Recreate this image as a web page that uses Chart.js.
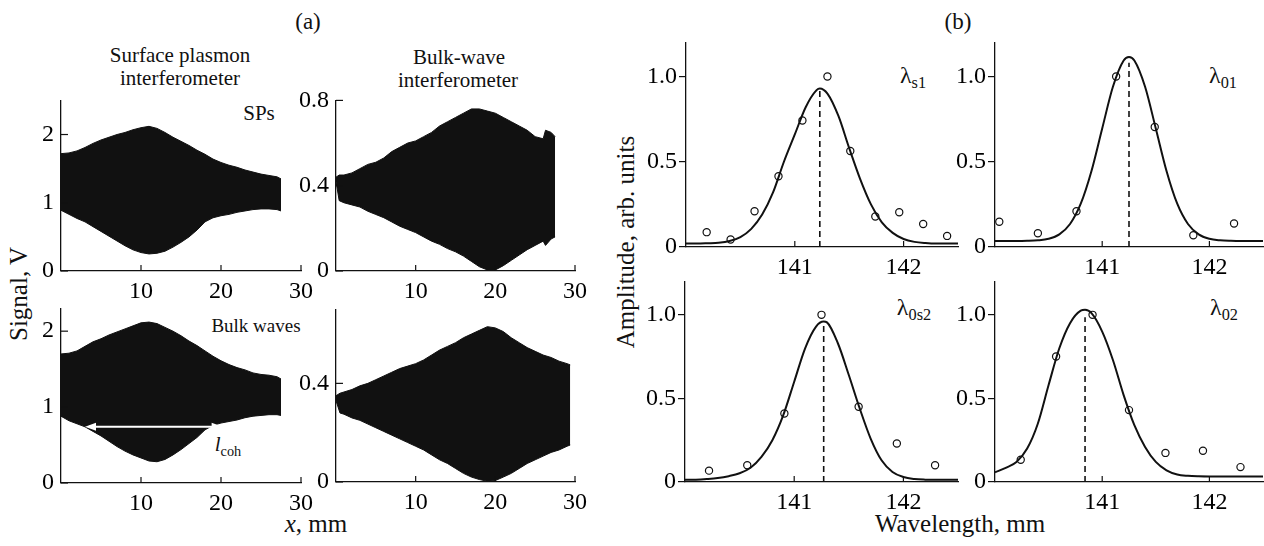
<!DOCTYPE html>
<html>
<head>
<meta charset="utf-8">
<script src="https://cdn.jsdelivr.net/npm/chart.js@4.4.0/dist/chart.umd.min.js"></script>
<style>
  body { margin: 0; background: #fff; }
  #fig { position: relative; width: 1264px; height: 546px; overflow: hidden;
         font-family: "Liberation Serif", "DejaVu Serif", serif; color: #111; }
  #fig canvas { position: absolute; }
  .lbl { position: absolute; white-space: nowrap; line-height: 1; transform: translate(-50%, -50%); }
  .vert { transform: translate(-50%, -50%) rotate(-90deg); }
  .lbl sub { font-size: 0.68em; vertical-align: -0.3em; }
</style>
</head>
<body>
<div id="fig">
  <div class="lbl" style="left:308px;top:21px;font-size:23px">(a)</div>
  <div class="lbl" style="left:180px;top:55px;font-size:21px">Surface plasmon</div>
  <div class="lbl" style="left:180px;top:78px;font-size:21px">interferometer</div>
  <div class="lbl" style="left:459px;top:57px;font-size:21px">Bulk-wave</div>
  <div class="lbl" style="left:458px;top:80px;font-size:21px">interferometer</div>
  <div class="lbl" style="left:259px;top:113px;font-size:21px">SPs</div>
  <div class="lbl" style="left:256px;top:325px;font-size:19px">Bulk waves</div>
  <div class="lbl" style="left:228px;top:446px;font-size:21px"><i>l</i><sub>coh</sub></div>
  <div class="lbl vert" style="left:18px;top:294px;font-size:25px">Signal, V</div>
  <div class="lbl" style="left:316px;top:523px;font-size:25px"><i>x</i>, mm</div>
  <div class="lbl" style="left:958px;top:21px;font-size:23px">(b)</div>
  <div class="lbl vert" style="left:625px;top:242px;font-size:25px">Amplitude, arb. units</div>
  <div class="lbl" style="left:960px;top:523px;font-size:25px">Wavelength, mm</div>
  <div class="lbl" style="left:913px;top:77px;font-size:24px">λ<sub>s1</sub></div>
  <div class="lbl" style="left:1223px;top:77px;font-size:24px">λ<sub>01</sub></div>
  <div class="lbl" style="left:914px;top:309px;font-size:24px">λ<sub>0s2</sub></div>
  <div class="lbl" style="left:1224px;top:309px;font-size:24px">λ<sub>02</sub></div>
</div>
<script>
// ---- (a) signal envelopes, V (upper / lower edge of the fast fringes) ----
const spsX = [0,1,2,3,4,5,6,7,8,9,10,11,12,13,14,15,16,17,18,19,20,21,22,23,24,25,26,27,27.5];
const spsUpper = [1.72,1.73,1.76,1.81,1.87,1.92,1.96,2.00,2.03,2.07,2.10,2.12,2.09,2.03,1.96,1.90,1.84,1.77,1.71,1.64,1.59,1.55,1.52,1.48,1.45,1.42,1.40,1.38,1.35];
const spsLower = [0.89,0.83,0.77,0.72,0.65,0.58,0.51,0.44,0.37,0.31,0.27,0.25,0.26,0.29,0.35,0.42,0.50,0.60,0.72,0.78,0.81,0.83,0.86,0.88,0.90,0.91,0.91,0.90,0.88];

const bwUpper = [1.70,1.71,1.74,1.80,1.86,1.90,1.95,1.99,2.03,2.07,2.11,2.12,2.10,2.05,2.00,1.94,1.87,1.81,1.74,1.67,1.61,1.56,1.52,1.49,1.45,1.43,1.42,1.40,1.37];
const bwLower = [0.88,0.82,0.78,0.74,0.68,0.62,0.55,0.48,0.42,0.37,0.33,0.29,0.28,0.31,0.37,0.44,0.52,0.60,0.70,0.76,0.79,0.81,0.83,0.86,0.88,0.89,0.90,0.90,0.89];

const bulkX = [0,0.4,1,2,3,4,5,6,7,8,9,10,11,12,13,14,15,16,17,18,19,20,21,22,23,24,25,26,26.3,27,27.5];
const bulkUpper = [0.44,0.45,0.45,0.46,0.48,0.50,0.51,0.53,0.56,0.58,0.60,0.61,0.63,0.65,0.68,0.70,0.72,0.74,0.76,0.76,0.75,0.74,0.72,0.70,0.68,0.66,0.63,0.62,0.66,0.65,0.63];
const bulkLower = [0.42,0.33,0.32,0.31,0.30,0.28,0.265,0.25,0.23,0.21,0.195,0.18,0.16,0.14,0.125,0.105,0.09,0.07,0.045,0.02,0.005,0.005,0.025,0.05,0.075,0.10,0.12,0.14,0.12,0.15,0.16];

const bulk2X = [0,0.5,1,2,3,4,5,6,7,8,9,10,11,12,13,14,15,16,17,18,19,20,21,22,23,24,25,26,27,28,29,29.4];
const bulk2Upper = [0.35,0.36,0.365,0.375,0.39,0.40,0.415,0.43,0.445,0.46,0.47,0.48,0.495,0.515,0.535,0.55,0.565,0.585,0.60,0.615,0.63,0.625,0.61,0.585,0.565,0.545,0.53,0.515,0.505,0.49,0.48,0.475];
const bulk2Lower = [0.33,0.28,0.275,0.26,0.25,0.235,0.22,0.205,0.19,0.175,0.16,0.145,0.13,0.11,0.09,0.075,0.055,0.035,0.02,0.01,0.003,0.006,0.02,0.035,0.055,0.075,0.09,0.105,0.12,0.13,0.145,0.15];

const lcohX = [3.0, 20.2];   // coherence length arrow, mm
const lcohY = 0.74;

// ---- (b) spectral lines: measured points + fitted curve ----
const s1PtsX = [140.19,140.41,140.63,140.85,141.07,141.30,141.51,141.74,141.96,142.18,142.40];
const s1PtsY = [0.087,0.044,0.21,0.415,0.742,1.0,0.563,0.179,0.204,0.135,0.065];
const s1FitX = [140.0,140.1,140.2,140.3,140.4,140.5,140.6,140.7,140.8,140.9,141.0,141.1,141.2,141.23,141.3,141.4,141.5,141.6,141.7,141.8,141.9,142.0,142.1,142.2,142.3,142.4,142.5];
const s1FitY = [0.02,0.02,0.022,0.025,0.035,0.058,0.106,0.19,0.32,0.50,0.66,0.82,0.92,0.93,0.90,0.77,0.58,0.40,0.25,0.145,0.083,0.047,0.03,0.023,0.02,0.02,0.02];
const s1Peak = [141.23, 0.93];

const o1PtsX = [140.04,140.40,140.76,141.13,141.49,141.85,142.23];
const o1PtsY = [0.148,0.081,0.21,1.0,0.704,0.069,0.138];
const o1FitX = [140.0,140.1,140.2,140.3,140.4,140.5,140.6,140.7,140.8,140.9,141.0,141.1,141.2,141.25,141.3,141.4,141.5,141.6,141.7,141.8,141.9,142.0,142.1,142.2,142.3,142.4,142.5];
const o1FitY = [0.035,0.035,0.035,0.036,0.039,0.048,0.074,0.135,0.254,0.446,0.695,0.94,1.094,1.115,1.094,0.94,0.695,0.446,0.254,0.135,0.074,0.048,0.039,0.036,0.035,0.035,0.035];
const o1Peak = [141.25, 1.08];

const s2PtsX = [140.22,140.57,140.91,141.25,141.59,141.94,142.29];
const s2PtsY = [0.068,0.10,0.41,1.0,0.45,0.23,0.10];
const s2FitX = [140.0,140.1,140.2,140.3,140.4,140.5,140.6,140.7,140.8,140.9,141.0,141.1,141.2,141.27,141.3,141.4,141.5,141.6,141.7,141.8,141.9,142.0,142.1,142.2,142.3,142.4,142.5];
const s2FitY = [0.013,0.014,0.018,0.024,0.035,0.052,0.085,0.15,0.25,0.40,0.60,0.80,0.93,0.96,0.955,0.83,0.64,0.44,0.26,0.13,0.06,0.03,0.018,0.014,0.013,0.013,0.013];
const s2Peak = [141.27, 0.94];

const o2PtsX = [140.24,140.57,140.91,141.25,141.59,141.94,142.29];
const o2PtsY = [0.133,0.751,1.0,0.43,0.174,0.187,0.089];
const o2FitX = [140.0,140.1,140.2,140.3,140.4,140.5,140.6,140.7,140.8,140.84,140.9,141.0,141.1,141.2,141.3,141.4,141.5,141.6,141.7,141.8,141.9,142.0,142.1,142.2,142.3,142.4,142.5];
const o2FitY = [0.058,0.085,0.12,0.2,0.35,0.58,0.80,0.95,1.025,1.03,1.01,0.90,0.73,0.52,0.34,0.21,0.12,0.07,0.045,0.037,0.034,0.033,0.033,0.033,0.033,0.033,0.033];
const o2Peak = [140.84, 0.985];

// tick labels
const aXTicks = [10, 20, 30];
const spYTicks = [0, 1, 2];
const bulkYTicks = [0, 0.4, 0.8];
const bulk2YTicks = [0, 0.4];
const bXTicks = [141, 142];
const bYTicks = [0, 0.5, 1.0];

const INK = "#111";
const SERIF = "'Liberation Serif', 'DejaVu Serif', serif";
Chart.defaults.font.family = SERIF;
Chart.defaults.font.size = 24;
Chart.defaults.color = "#000";
const FONT = { family: SERIF, size: 24 };
const Y_W = 60, X_H = 40, PAD_T = 12, PAD_R = 25;

const pts = (xs, ys) => xs.map((x, i) => ({ x: x, y: ys[i] }));

// inward tick marks (Chart.js only draws them outward)
const innerTicks = {
  id: "innerTicks",
  afterDraw(chart, args, opts) {
    const ctx = chart.ctx, area = chart.chartArea;
    ctx.save();
    ctx.strokeStyle = INK;
    ctx.lineWidth = 1.2;
    if (opts.x) chart.scales.x.ticks.forEach(t => {
      const px = chart.scales.x.getPixelForValue(t.value);
      ctx.beginPath(); ctx.moveTo(px, area.bottom); ctx.lineTo(px, area.bottom - opts.x); ctx.stroke();
    });
    if (opts.y) chart.scales.y.ticks.forEach(t => {
      const py = chart.scales.y.getPixelForValue(t.value);
      ctx.beginPath(); ctx.moveTo(area.left, py); ctx.lineTo(area.left + opts.y, py); ctx.stroke();
    });
    ctx.restore();
  }
};

// white double arrow marking l_coh
const cohArrow = {
  id: "cohArrow",
  afterDatasetsDraw(chart, args, opts) {
    if (!opts.range) return;
    const sx = chart.scales.x, sy = chart.scales.y, ctx = chart.ctx;
    const x0 = sx.getPixelForValue(opts.range[0]), x1 = sx.getPixelForValue(opts.range[1]);
    const y = sy.getPixelForValue(opts.level);
    ctx.save();
    ctx.strokeStyle = "#fff"; ctx.fillStyle = "#fff"; ctx.lineWidth = 2;
    ctx.beginPath(); ctx.moveTo(x0 + 4, y); ctx.lineTo(x1 - 4, y); ctx.stroke();
    ctx.beginPath(); ctx.moveTo(x0, y); ctx.lineTo(x0 + 11, y - 4); ctx.lineTo(x0 + 11, y + 4); ctx.closePath(); ctx.fill();
    ctx.beginPath(); ctx.moveTo(x1, y); ctx.lineTo(x1 - 11, y - 4); ctx.lineTo(x1 - 11, y + 4); ctx.closePath(); ctx.fill();
    ctx.restore();
  }
};

function makePanel(rect, xr, yr, xTicks, yTicks, datasets, extra) {
  const cv = document.createElement("canvas");
  const w = rect.r - rect.l + Y_W + PAD_R, h = rect.b - rect.t + PAD_T + X_H;
  cv.width = w; cv.height = h;
  cv.style.left = (rect.l - Y_W) + "px";
  cv.style.top = (rect.t - PAD_T) + "px";
  document.getElementById("fig").appendChild(cv);
  const yOut = extra.yOut;
  new Chart(cv.getContext("2d"), {
    type: "line",
    data: { datasets: datasets },
    plugins: [innerTicks, cohArrow],
    options: {
      responsive: false, animation: false, devicePixelRatio: 1,
      layout: { padding: { left: 0, top: PAD_T, right: PAD_R, bottom: 0 }, autoPadding: false },
      plugins: {
        legend: { display: false }, tooltip: { enabled: false },
        innerTicks: { x: 6, y: yOut ? 0 : 7 },
        cohArrow: extra.coh || {}
      },
      scales: {
        x: {
          type: "linear", min: xr[0], max: xr[1],
          afterFit: s => { s.height = X_H; },
          afterBuildTicks: s => { s.ticks = xTicks.map(v => ({ value: v })); },
          grid: { display: true, drawOnChartArea: false, drawTicks: false, color: INK },
          border: { display: true, color: INK, width: 1.3 },
          ticks: { color: "#000", font: FONT, padding: 6, maxRotation: 0, autoSkip: false,
                   callback: v => String(v) }
        },
        y: {
          type: "linear", min: yr[0], max: yr[1],
          afterFit: s => { s.width = Y_W; },
          afterBuildTicks: s => { s.ticks = yTicks.map(v => ({ value: v })); },
          grid: { display: true, drawOnChartArea: false, drawTicks: !!yOut, tickLength: 7, color: INK, tickColor: INK, lineWidth: 1.2 },
          border: { display: true, color: INK, width: 1.3 },
          ticks: { color: "#000", font: FONT, padding: yOut ? 2 : 7, autoSkip: false,
                   callback: v => v === 0 ? "0" : (extra.yFmt ? v.toFixed(extra.yFmt) : String(v)) }
        }
      }
    }
  });
}

function envelope(xs, up, lo) {
  return [
    { data: pts(xs, up), borderColor: INK, borderWidth: 1, backgroundColor: INK,
      fill: "+1", pointRadius: 0, tension: 0 },
    { data: pts(xs, lo), borderColor: INK, borderWidth: 1, fill: false, pointRadius: 0, tension: 0 }
  ];
}

function line(px, py, fx, fy, peak) {
  return [
    { data: pts(fx, fy), borderColor: INK, borderWidth: 2, pointRadius: 0,
      cubicInterpolationMode: "monotone", fill: false },
    { data: [{ x: peak[0], y: 0 }, { x: peak[0], y: peak[1] }], borderColor: INK,
      borderWidth: 1.6, borderDash: [6, 4], pointRadius: 0, fill: false },
    { data: pts(px, py), showLine: false, pointStyle: "circle", pointRadius: 3.6,
      pointBorderWidth: 1.2, pointBorderColor: INK, pointBackgroundColor: "#fff" }
  ];
}

function drawAll() {
  // (a)
  makePanel({ l: 61, t: 91, r: 301, b: 271 }, [0, 30], [0, 2.5], aXTicks, spYTicks,
    envelope(spsX, spsUpper, spsLower), {});
  makePanel({ l: 336, t: 91, r: 575, b: 271 }, [0, 30], [0, 0.8], aXTicks, bulkYTicks,
    envelope(bulkX, bulkUpper, bulkLower), {});
  makePanel({ l: 61, t: 299, r: 301, b: 483 }, [0, 30], [0, 2.3], aXTicks, spYTicks,
    envelope(spsX, bwUpper, bwLower), { coh: { range: lcohX, level: lcohY } });
  makePanel({ l: 336, t: 300, r: 575, b: 482 }, [0, 30], [0, 0.7], aXTicks, bulk2YTicks,
    envelope(bulk2X, bulk2Upper, bulk2Lower), {});

  // (b)
  makePanel({ l: 686, t: 38, r: 958, b: 247 }, [140, 142.5], [0, 1.2], bXTicks, bYTicks,
    line(s1PtsX, s1PtsY, s1FitX, s1FitY, s1Peak), { yOut: true, yFmt: 1 });
  makePanel({ l: 995, t: 38, r: 1263, b: 247 }, [140, 142.5], [0, 1.2], bXTicks, bYTicks,
    line(o1PtsX, o1PtsY, o1FitX, o1FitY, o1Peak), { yOut: true, yFmt: 1 });
  makePanel({ l: 685, t: 277, r: 958, b: 482 }, [140, 142.5], [0, 1.2], bXTicks, bYTicks,
    line(s2PtsX, s2PtsY, s2FitX, s2FitY, s2Peak), { yOut: true, yFmt: 1 });
  makePanel({ l: 995, t: 277, r: 1263, b: 482 }, [140, 142.5], [0, 1.2], bXTicks, bYTicks,
    line(o2PtsX, o2PtsY, o2FitX, o2FitY, o2Peak), { yOut: true, yFmt: 1 });
}

document.fonts.load("24px 'Liberation Serif'").then(drawAll, drawAll);
</script>
</body>
</html>
